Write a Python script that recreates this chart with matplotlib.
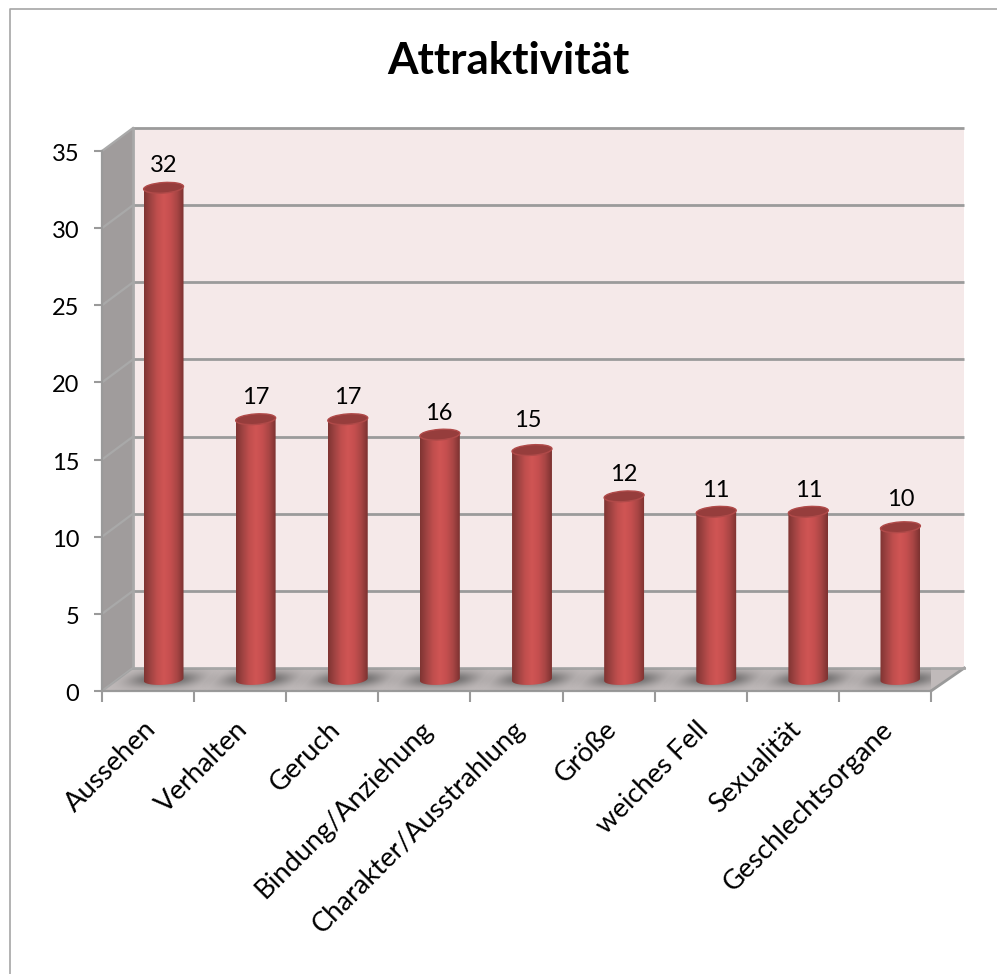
import numpy as np
import matplotlib
matplotlib.use("Agg")
import matplotlib.pyplot as plt
from matplotlib.patches import Polygon, Ellipse
from matplotlib.path import Path
from matplotlib.colors import LinearSegmentedColormap
from matplotlib.lines import Line2D
from matplotlib.transforms import Affine2D, IdentityTransform

categories = ["Aussehen", "Verhalten", "Geruch", "Bindung/Anziehung", "Charakter/Ausstrahlung",
              "Größe", "weiches Fell", "Sexualität", "Geschlechtsorgane"]
values = [32, 17, 17, 16, 15, 12, 11, 11, 10]
y_ticks = [0, 5, 10, 15, 20, 25, 30, 35]
title = "Attraktivität"

plt.rcParams['font.family'] = ['Lato', 'DejaVu Sans']
W, H = 997, 974
fig = plt.figure(figsize=(W / 100, H / 100), dpi=100, facecolor='white')
ax = fig.add_axes([102 / W, (H - 691) / H, 829 / W, 540 / H])
ax.patch.set_visible(False)
n = len(categories)
ax.set_xlim(0, n)
ax.set_ylim(0, 35)

DX, DY = 31, 23          # depth of the box, in pixels
GRID = '#9b9b9b'
XB = n + 0.025           # back wall runs a little further than the front edge
tr_back = ax.transData + Affine2D().translate(DX, DY)
tr_mid = ax.transData + Affine2D().translate(DX * .5, DY * .5)

# walls
ax.add_patch(Polygon([(0, 0), (XB, 0), (XB, 35), (0, 35)], transform=tr_back, fc='#f5e9e9', ec='none', clip_on=False, zorder=1))
x0, y0 = ax.transData.transform((0, 0))
x1, _ = ax.transData.transform((n, 0))
xbr, _ = tr_back.transform((XB, 0))
_, y35 = ax.transData.transform((0, 35))
side = [(x0, y0), (x0 + DX, y0 + DY), (x0 + DX, y35 + DY), (x0, y35)]
floor = [(x0, y0), (x1, y0), (xbr, y0 + DY), (x0 + DX, y0 + DY)]
ident = IdentityTransform()
ax.add_patch(Polygon(side, transform=ident, fc='#a09c9c', ec='none', clip_on=False, zorder=1))
floor_patch = Polygon(floor, transform=ident, fc='#c0baba', ec='none', clip_on=False, zorder=1)
ax.add_patch(floor_patch)

# grid lines
for t in y_ticks:
    if t > 0:
        ax.plot([0, XB], [t, t], color=GRID, lw=2, transform=tr_back, clip_on=False, zorder=2, solid_capstyle='butt')
    yp = ax.transData.transform((0, t))[1]
    ax.add_line(Line2D([x0, x0 + DX], [yp, yp + DY], color='#a9a9a9', lw=1.6, transform=ident, clip_on=False, zorder=2))
ax.plot([0, 0], [0, 35], color='#a8a8a8', lw=2, transform=tr_back, clip_on=False, zorder=2)
ax.add_line(Line2D([x1, xbr], [y0, y0 + DY], color='#9a9a9a', lw=2, transform=ident, clip_on=False, zorder=2))
ax.plot([0, XB], [0, 0], color='#a8a8a8', lw=2, transform=tr_back, clip_on=False, zorder=2)

# soft shadows on the floor
u = np.linspace(-1, 1, 120)
uu, vv = np.meshgrid(u, u)
shadow = np.zeros((120, 120, 4))
shadow[..., 0:3] = 0.3
shadow[..., 3] = 0.72 * np.exp(-(np.abs(uu) / 0.68) ** 3 - (np.abs(vv) / 0.62) ** 2)
xc = np.arange(n) + 0.5
for xi in xc:
    px, py = ax.transData.transform((xi, 0))
    tr = Affine2D().scale(50, 12).skew_deg(40, 0).translate(px + DX * .5 + 1, py + DY * .5)
    im = ax.imshow(shadow, extent=[-1, 1, -1, 1], transform=tr, aspect='auto', zorder=3, interpolation='bilinear')
    im.set_clip_path(floor_patch)

# cylinders
cmap = LinearSegmentedColormap.from_list('cyl', ['#7f3432', '#a04342', '#c14f4e', '#d05554', '#c54f4f', '#a84544', '#7c3230'])
grad = np.linspace(0, 1, 128).reshape(1, -1)
BW = 40.0   # pixel width
EH = 10.5   # pixel height of the ellipse
TILT = 4
TOP_SHIFT = 2   # cylinders end slightly below the nominal value
label_gap = [20.5, 19.5, 19.5, 19.5, 27.5, 19.5, 19.5, 19.5, 25.5]
label_dx = [0, 0, 0, -1, -4, 0, 0, 0, 0]
th = np.linspace(np.pi, 2 * np.pi, 40)
rot = np.radians(TILT)
for xi, v, gap, ldx in zip(xc, values, label_gap, label_dx):
    bx, by = tr_mid.transform((xi, 0))
    tx, ty = tr_mid.transform((xi, v))
    ty -= TOP_SHIFT
    ex = BW / 2 * np.cos(th)
    ey = EH / 2 * np.sin(th)
    lx = bx + ex * np.cos(rot) - ey * np.sin(rot)
    ly = by + ex * np.sin(rot) + ey * np.cos(rot)
    verts = np.column_stack([np.r_[lx, lx[-1], lx[0], lx[0]], np.r_[ly, ty, ty, ly[0]]])
    path = Path(verts)
    w = BW / ax.bbox.width * n
    im = ax.imshow(grad, extent=[xi - w / 2, xi + w / 2, -1, v], transform=tr_mid, cmap=cmap,
                   aspect='auto', zorder=4, interpolation='bilinear')
    im.set_clip_path(path, transform=ident)
    ax.add_patch(Ellipse((0, 0), BW, EH, angle=TILT, transform=Affine2D().translate(tx, ty),
                         fc='#963d3c', ec='#b04a49', lw=1.0, clip_on=False, zorder=5))
    ax.annotate(str(v), (xi, v), xycoords=tr_mid, xytext=(ldx * .72, gap * .72), textcoords='offset points',
                ha='center', va='center', fontsize=17, color='black', zorder=6, annotation_clip=False)

ax.set_xlim(0, n)
ax.set_ylim(0, 35)

# axes
for s in ['top', 'right']:
    ax.spines[s].set_visible(False)
for s in ['left', 'bottom']:
    ax.spines[s].set_color('#9a9a9a')
    ax.spines[s].set_linewidth(1.6)
    ax.spines[s].set_zorder(2.5)
ax.set_yticks(y_ticks)
ax.set_xticks(np.arange(n + 1), minor=True)
ax.set_xticks(xc)
ax.set_xticklabels(categories, rotation=45, ha='right', rotation_mode='anchor', fontsize=19.7)
ax.tick_params(axis='x', which='major', length=0, pad=20)
ax.tick_params(axis='x', which='minor', length=8, width=1.5, color='#9a9a9a')
ax.tick_params(axis='y', length=6, width=1.5, color='#9a9a9a', labelsize=17, pad=10.5)
for lab in ax.get_xticklabels():
    lab.set_va('top')
    lab.set_transform(lab.get_transform() + Affine2D().translate(-5, 2))
for lab in ax.get_yticklabels():
    lab.set_transform(lab.get_transform() + Affine2D().translate(0, -1.5))

fig.text(508 / W, 1 - 61 / H, title, ha='center', va='center', fontsize=31.7, fontweight='bold', color='black')

# chart frame
fig.add_artist(Line2D([9.5 / W, 9.5 / W, 1], [0, 1 - 9 / H, 1 - 9 / H], color='#a6a6a6', lw=1.2))

fig.savefig('out.png', dpi=100)
